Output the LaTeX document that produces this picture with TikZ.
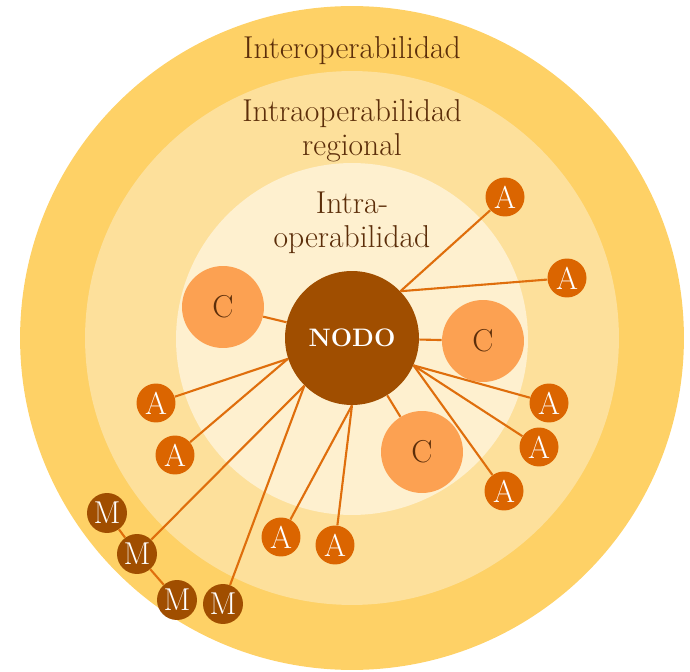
\documentclass[tikz,border=0pt]{standalone}
\usepackage{tikz}
\usetikzlibrary{arrows.meta,positioning}
\usepackage{xcolor}

\definecolor{interring}{HTML}{FED166}
\definecolor{regionring}{HTML}{FDE09B}
\definecolor{intraring}{HTML}{FEF0CF}
\definecolor{nodocol}{HTML}{A04E00}
\definecolor{ccol}{HTML}{FCA152}
\definecolor{acol}{HTML}{DB6500}
\definecolor{linkcol}{HTML}{DF6E0C}
\definecolor{labelcol}{HTML}{5C2E0A}

\begin{document}
\begin{tikzpicture}[x=0.02cm, y=-0.02cm]
                \tikzstyle{ringlabel} = [font=\fontsize{18}{19.5}\selectfont, text=labelcol, align=center];
                \tikzstyle{hub} = [shape=circle, fill=nodocol, minimum size=2.68cm, inner sep=0pt, text=white, font=\fontsize{14.4}{17}\selectfont\bfseries];
                \tikzstyle{centro} = [shape=circle, fill=ccol, minimum size=1.64cm, inner sep=0pt, text=labelcol, font=\fontsize{18}{20}\selectfont];
                \tikzstyle{agente} = [shape=circle, fill=acol, minimum size=0.78cm, inner sep=0pt, text=white, font=\fontsize{18}{20}\selectfont];
                \tikzstyle{miembro} = [shape=circle, fill=nodocol, minimum size=0.8cm, inner sep=0pt, text=white, font=\fontsize{18}{20}\selectfont];
                \tikzstyle{link} = [draw=linkcol, line width=1.2pt];

                \useasboundingbox (0,0) rectangle (690,672);

                % rings
                \fill[interring] (352,338) circle (6.64cm);
                \fill[regionring] (352,338) circle (5.34cm);
                \fill[intraring] (352,339) circle (3.52cm);

                \node[ringlabel](Inter) at (352,51) {Interoperabilidad};
                \node[ringlabel](Region) at (352,131) {Intraoperabilidad\\regional};
                \node[ringlabel](Intra) at (352,223) {Intra-\\operabilidad};

                \node[hub](NODO) at (352,338) {NODO};

                \node[centro](C1) at (223,307) {C};
                \node[centro](C2) at (483,341) {C};
                \node[centro](C3) at (422,452) {C};

                \node[agente](A1) at (505,197) {A};
                \node[agente](A2) at (567,278) {A};
                \node[agente](A3) at (549,403) {A};
                \node[agente](A4) at (539,447) {A};
                \node[agente](A5) at (504,491) {A};
                \node[agente](A6) at (335,545) {A};
                \node[agente](A7) at (281,537) {A};
                \node[agente](A8) at (175,455) {A};
                \node[agente](A9) at (156,403) {A};

                \node[miembro](M1) at (107,513) {M};
                \node[miembro](M2) at (137,554) {M};
                \node[miembro](M3) at (177,600) {M};
                \node[miembro](M4) at (223,604) {M};

                \draw[link]
                    (NODO.44) edge (A1)
                    (NODO.44) edge (A2)
                    (NODO) edge (C1)
                    (NODO) edge (C2)
                    (NODO) edge (C3)
                    (NODO.-24) edge (A3)
                    (NODO.-24) edge (A4)
                    (NODO.-24) edge (A5)
                    (NODO.south) edge (A6)
                    (NODO.south) edge (A7)
                    (NODO.198) edge (A8)
                    (NODO.198) edge (A9)
                    (NODO.225) edge (M2)
                    (NODO.225) edge (M4)
                    (M1) edge (M2)
                    (M2) edge (M3)
                ;
            \end{tikzpicture}
\end{document}
